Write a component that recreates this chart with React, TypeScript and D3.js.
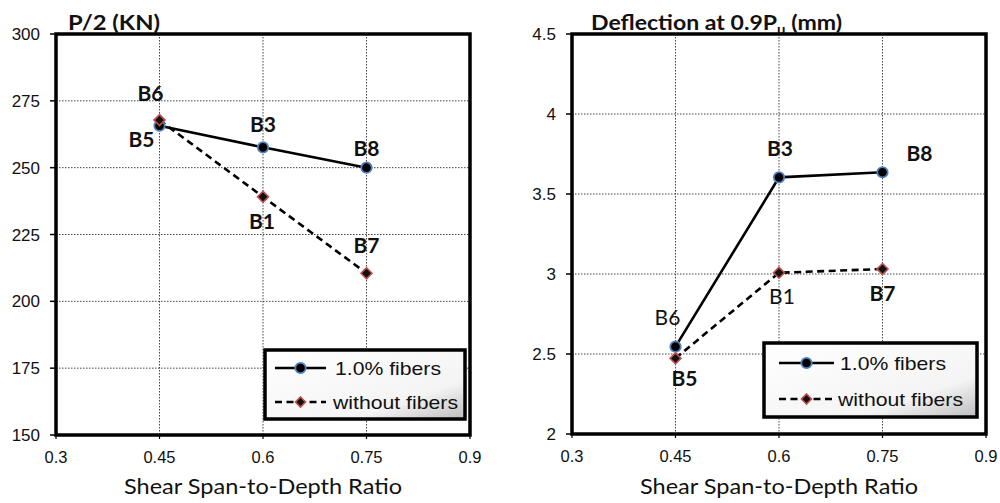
import React from "react";
import * as d3 from "d3";

// shear span-to-depth ratio
const ratios = [0.45, 0.6, 0.75];
const xTicks = [0.3, 0.45, 0.6, 0.75, 0.9];

// left panel: P/2 (KN)
const loadFibers = [265.7, 257.6, 250];
const loadPlain = [267.8, 239.1, 210.5];
const loadTicks = [150, 175, 200, 225, 250, 275, 300];
const loadFiberLabels = ["B5", "B3", "B8"];
const loadPlainLabels = ["B6", "B1", "B7"];

// right panel: deflection at 0.9Pu (mm)
const deflFibers = [2.546, 3.604, 3.636];
const deflPlain = [2.473, 3.008, 3.031];
const deflTicks = [2, 2.5, 3, 3.5, 4, 4.5];
const deflFiberLabels = ["B6", "B3", "B8"];
const deflPlainLabels = ["B5", "B1", "B7"];

const legendNames = ["1.0% fibers", "without fibers"];

const LABEL_FONT = "Lato, 'Open Sans', sans-serif";
const TICK_FONT = "'Liberation Sans', Arial, sans-serif";

type LabelPos = { dx: number; dy: number; bold?: boolean };

type PanelProps = {
  x0: number;
  x1: number;
  yTop: number;
  yBot: number;
  yDomain: [number, number];
  yTicks: number[];
  fibers: number[];
  plain: number[];
  fiberLabels: string[];
  plainLabels: string[];
  fiberPos: LabelPos[];
  plainPos: LabelPos[];
  title: React.ReactNode;
  titleX: number;
  titleW: number;
  legend: { x: number; y: number; w: number; h: number; row1: number; row2: number; lineX0: number; lineX1: number; textX: number };
  id: string;
};

function Diamond({ cx, cy, r }: { cx: number; cy: number; r: number }) {
  return (
    <path
      d={`M${cx},${cy - r}L${cx + r},${cy}L${cx},${cy + r}L${cx - r},${cy}Z`}
      fill="#111"
      stroke="#c0504d"
      strokeWidth={1.6}
    />
  );
}

function Panel(p: PanelProps) {
  const x = d3.scaleLinear().domain([0.3, 0.9]).range([p.x0, p.x1]);
  const y = d3.scaleLinear().domain(p.yDomain).range([p.yBot, p.yTop]);
  const line = d3
    .line<number>()
    .x((_, i) => x(ratios[i]))
    .y((d) => y(d));
  const lg = p.legend;
  const midX = (lg.lineX0 + lg.lineX1) / 2;

  const label = (txt: string, cx: number, cy: number, pos: LabelPos, key: string) => (
    <text
      key={key}
      x={cx + pos.dx}
      y={cy + pos.dy}
      textAnchor="middle"
      fontFamily={LABEL_FONT}
      fontWeight={pos.bold === false ? 400 : 700}
      fontSize={21}
      fill="#111"
    >
      {txt}
    </text>
  );

  return (
    <g>
      {/* grid */}
      {p.yTicks.map((t) => (
        <g key={"y" + t}>
          <line x1={p.x0} x2={p.x1} y1={y(t)} y2={y(t)} stroke="#444" strokeWidth={1} strokeDasharray="1.5,1.5" />
          <line x1={p.x0 - 6} x2={p.x0} y1={y(t)} y2={y(t)} stroke="#000" strokeWidth={1.5} />
          <text x={p.x0 - 16} y={y(t) + 6} textAnchor="end" fontFamily={TICK_FONT} fontSize={17} fill="#111">
            {String(t)}
          </text>
        </g>
      ))}
      {xTicks.map((t) => (
        <g key={"x" + t}>
          <line x1={x(t)} x2={x(t)} y1={p.yTop} y2={p.yBot} stroke="#444" strokeWidth={1} strokeDasharray="1.5,1.5" />
          <line x1={x(t)} x2={x(t)} y1={p.yBot} y2={p.yBot + 4} stroke="#000" strokeWidth={1.2} />
          <text x={x(t)} y={p.yBot + 28} textAnchor="middle" fontFamily={TICK_FONT} fontSize={16.5} fill="#111">
            {String(t)}
          </text>
        </g>
      ))}
      <rect x={p.x0} y={p.yTop} width={p.x1 - p.x0} height={p.yBot - p.yTop} fill="none" stroke="#000" strokeWidth={3.5} />

      {/* series */}
      <path d={line(p.plain) || ""} fill="none" stroke="#000" strokeWidth={2.6} strokeDasharray="7,4.5" />
      <path d={line(p.fibers) || ""} fill="none" stroke="#000" strokeWidth={2.6} />
      {p.fibers.map((v, i) => (
        <circle key={"f" + i} cx={x(ratios[i])} cy={y(v)} r={5.2} fill="#000" stroke="#4f81bd" strokeWidth={1.8} />
      ))}
      {p.plain.map((v, i) => (
        <Diamond key={"p" + i} cx={x(ratios[i])} cy={y(v)} r={5.5} />
      ))}

      {/* point labels */}
      {p.fibers.map((v, i) => label(p.fiberLabels[i], x(ratios[i]), y(v), p.fiberPos[i], "fl" + i))}
      {p.plain.map((v, i) => label(p.plainLabels[i], x(ratios[i]), y(v), p.plainPos[i], "pl" + i))}

      {/* titles */}
      <text
        x={p.titleX}
        y={30}
        fontFamily={LABEL_FONT}
        fontWeight={700}
        fontSize={20}
        fill="#111"
        textLength={p.titleW}
        lengthAdjust="spacingAndGlyphs"
      >
        {p.title}
      </text>
      <text
        x={(p.x0 + p.x1) / 2}
        y={494}
        textAnchor="middle"
        fontFamily={LABEL_FONT}
        fontSize={21}
        fill="#111"
        textLength={278}
        lengthAdjust="spacingAndGlyphs"
      >
        Shear Span-to-Depth Ratio
      </text>

      {/* legend */}
      <defs>
        <linearGradient id={p.id + "lg"} x1="0" y1="0" x2="1" y2="1">
          <stop offset="0" stopColor="#ffffff" />
          <stop offset="0.72" stopColor="#f4f4f4" />
          <stop offset="1" stopColor="#bdbdbd" />
        </linearGradient>
      </defs>
      <rect x={lg.x} y={lg.y} width={lg.w} height={lg.h} fill={`url(#${p.id}lg)`} stroke="#000" strokeWidth={3.5} />
      <line x1={lg.lineX0} x2={lg.lineX1} y1={lg.row1} y2={lg.row1} stroke="#000" strokeWidth={2.6} />
      <circle cx={midX} cy={lg.row1} r={5.2} fill="#000" stroke="#4f81bd" strokeWidth={1.8} />
      <text x={lg.textX} y={lg.row1 + 7} fontFamily={TICK_FONT} fontSize={19} fill="#111" textLength={106} lengthAdjust="spacingAndGlyphs">
        {legendNames[0]}
      </text>
      <line x1={lg.lineX0} x2={lg.lineX1} y1={lg.row2} y2={lg.row2} stroke="#000" strokeWidth={2.6} strokeDasharray="7,4.5" />
      <Diamond cx={midX} cy={lg.row2} r={5} />
      <text x={lg.textX - 2} y={lg.row2 + 7} fontFamily={TICK_FONT} fontSize={19} fill="#111" textLength={125} lengthAdjust="spacingAndGlyphs">
        {legendNames[1]}
      </text>
    </g>
  );
}

export default function App() {
  return (
    <svg width={1000} height={503} style={{ position: "absolute", left: 0, top: 0, background: "#fff" }}>
      <Panel
        id="left"
        x0={56}
        x1={470}
        yTop={34}
        yBot={435}
        yDomain={[150, 300]}
        yTicks={loadTicks}
        fibers={loadFibers}
        plain={loadPlain}
        fiberLabels={loadFiberLabels}
        plainLabels={loadPlainLabels}
        fiberPos={[{ dx: -18, dy: 21 }, { dx: 0, dy: -15 }, { dx: 0, dy: -12 }]}
        plainPos={[{ dx: -9, dy: -19 }, { dx: -1, dy: 32 }, { dx: 0, dy: -20 }]}
        title="P/2  (KN)"
        titleX={68}
        titleW={92}
        legend={{ x: 265, y: 350, w: 200, h: 69, row1: 368, row2: 402, lineX0: 275, lineX1: 326, textX: 335 }}
      />
      <Panel
        id="right"
        x0={572}
        x1={986}
        yTop={34}
        yBot={434}
        yDomain={[2, 4.5]}
        yTicks={deflTicks}
        fibers={deflFibers}
        plain={deflPlain}
        fiberLabels={deflFiberLabels}
        plainLabels={deflPlainLabels}
        fiberPos={[{ dx: -8, dy: -22, bold: false }, { dx: 1, dy: -21 }, { dx: 37, dy: -11 }]}
        plainPos={[{ dx: 9, dy: 28 }, { dx: 3, dy: 31, bold: false }, { dx: 0, dy: 32 }]}
        title={
          <>
            Deflection at 0.9P
            <tspan fontSize={13} dy={4}>u</tspan>
            <tspan dy={-4}> (mm)</tspan>
          </>
        }
        titleX={591}
        titleW={251}
        legend={{ x: 764, y: 343, w: 213, h: 74, row1: 363, row2: 399, lineX0: 779, lineX1: 834, textX: 840 }}
      />
    </svg>
  );
}
